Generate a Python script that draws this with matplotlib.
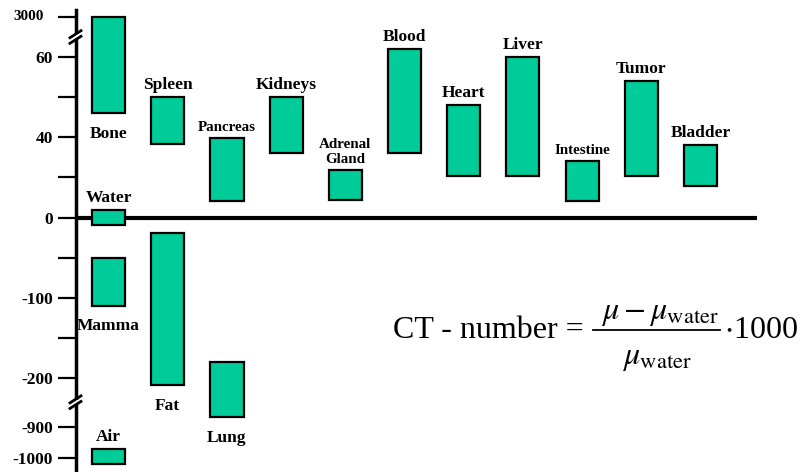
import numpy as np
import matplotlib.pyplot as plt
from matplotlib.lines import Line2D
from matplotlib.patches import Rectangle

# CT numbers (Hounsfield units)
tissues = ['Bone', 'Water', 'Mamma', 'Air', 'Spleen', 'Fat', 'Pancreas', 'Lung',
           'Kidneys', 'Adrenal\nGland', 'Blood', 'Heart', 'Liver', 'Intestine',
           'Tumor', 'Bladder']
column = [0, 0, 0, 0, 1, 1, 2, 2, 3, 4, 5, 6, 7, 8, 9, 10]
ct_low = [46, -9, -110, -1020, 36.5, -300, 8.5, -760, 32, 9, 32, 20.5, 20.5, 8.5, 20.5, 16]
ct_high = [3000, 4, -50, -970, 50, -19, 39.5, -180, 50, 23.5, 62, 48, 60, 28, 54, 36]
label_below = ['Bone', 'Mamma', 'Fat', 'Lung']
small_labels = ['Pancreas', 'Adrenal\nGland', 'Intestine']

yticks = [-1000, -900, -200, -150, -100, -50, 0, 20, 40, 50, 60, 3000]
ytick_labels = ['-1000', '-900', '-200', '', '-100', '', '0', '', '40', '', '60', '']
top_label = '3000'
breaks = [65 + 1e-9, -545]

# broken, piecewise linear axis
ct_knots = np.array([-1100, -1000, -900, -200, 0, 40, 60, 65, 3000, 3500], float)
pos_knots = np.array([-271, -240, -209, -160, 0, 81, 161, 181, 201, 218], float)

def forward(v):
    return np.interp(v, ct_knots, pos_knots)

def inverse(u):
    return np.interp(u, pos_knots, ct_knots)

plt.rcParams['mathtext.fontset'] = 'stix'
serif = 'Liberation Serif'
green = '#00CC99'

W, H = 805, 472
def px(x, y):
    return x / W, 1 - y / H

fig = plt.figure(figsize=(W / 100, H / 100), dpi=100)
ax = fig.add_axes([76 / W, 0, (757 - 76) / W, (472 - 10) / H])
ax.set_yscale('function', functions=(forward, inverse))
ax.set_ylim(inverse(-254), inverse(208))
ax.set_xlim(-0.55, 10.955)

ax.axhline(0, color='black', lw=3, zorder=1)
ax.bar(column, np.array(ct_high) - np.array(ct_low), bottom=ct_low, width=0.56,
       color=green, edgecolor='black', linewidth=1.6, zorder=2)

for name, c, lo, hi in zip(tissues, column, ct_low, ct_high):
    fs = 10.8 if name in small_labels else 12.5
    if name in label_below:
        ax.annotate(name, (c, lo), xytext=(0, -9), textcoords='offset points',
                    ha='center', va='top', fontsize=fs, fontweight='bold',
                    family=serif)
    else:
        ax.annotate(name, (c, hi), xytext=(0, 3), textcoords='offset points',
                    ha='center', va='bottom', fontsize=fs, fontweight='bold',
                    family=serif, linespacing=1.2)

ax.set_xticks([])
ax.set_yticks(yticks)
ax.set_yticklabels(ytick_labels, fontsize=12.5, fontweight='bold', family=serif)
ax.tick_params(axis='y', direction='out', length=13, width=1.6, pad=3.5)
# the top label sits a bit further out
ax.annotate(top_label, (0, yticks[-1]), xycoords=ax.get_yaxis_transform(),
            xytext=(-23.5, 0), textcoords='offset points', ha='right', va='center',
            fontsize=11, fontweight='bold', family=serif)
for s in ['top', 'right', 'bottom']:
    ax.spines[s].set_visible(False)
ax.spines['left'].set_linewidth(2.5)

# break marks on the y axis
x0 = ax.transAxes.transform((0, 0))[0]
for b in breaks:
    y0 = ax.transData.transform((0, b))[1]
    fig.patches.append(Rectangle((x0 - 3, y0 - 2.5), 6, 5, transform=None,
                                 facecolor='white', edgecolor='none', zorder=5))
    for dy in (-2.8, 2.8):
        fig.lines.append(Line2D([x0 - 6, x0 + 5], [y0 + dy - 3.5, y0 + dy + 3.5],
                                transform=None, color='black', lw=2, zorder=6))

# CT-number formula
fsf = 23
fig.text(*px(393, 338), 'CT - number =', family=serif, fontsize=fsf,
         ha='left', va='baseline')
fig.text(*px(660, 319), r'$\mu - \mu_{\mathrm{water}}$', fontsize=fsf,
         ha='center', va='baseline')
fig.lines.append(Line2D([593 / W, 720 / W], [1 - 330 / H, 1 - 330 / H],
                        transform=fig.transFigure, color='black', lw=1.3))
fig.text(*px(657, 364), r'$\mu_{\mathrm{water}}$', fontsize=fsf,
         ha='center', va='baseline')
fig.text(*px(724, 338), r'$\cdot$1000', family=serif, fontsize=fsf,
         ha='left', va='baseline')

fig.savefig('out.png', dpi=100)
